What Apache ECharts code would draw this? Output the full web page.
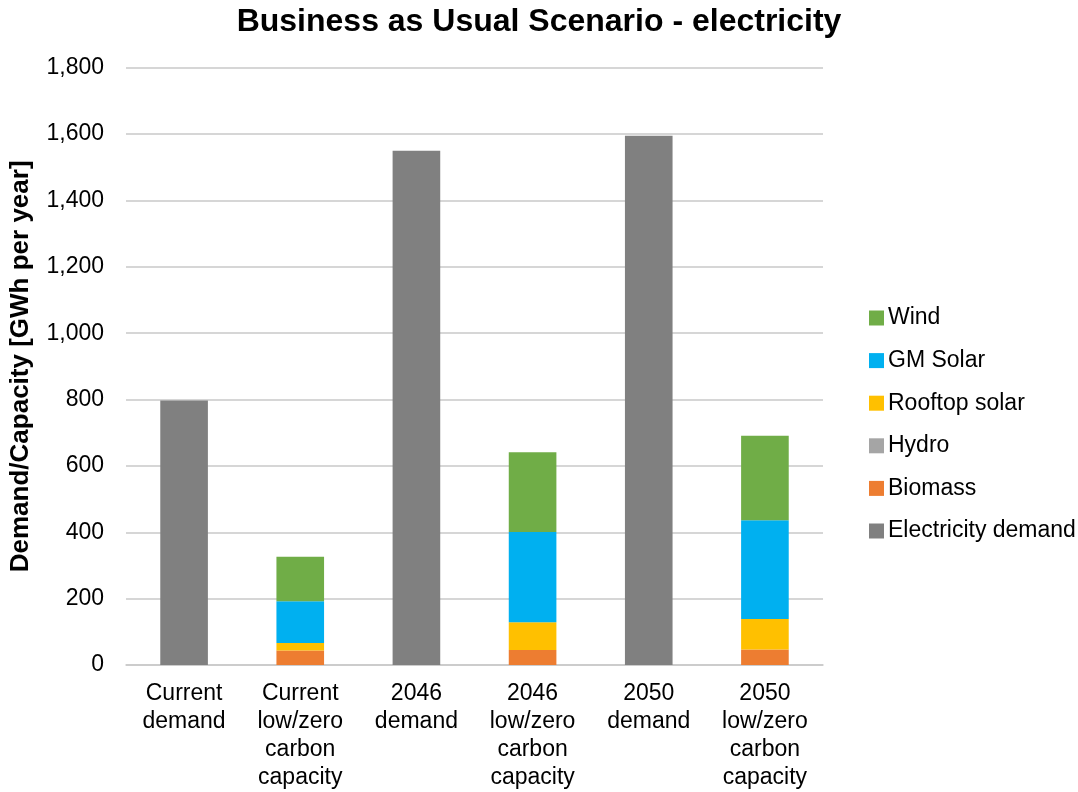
<!DOCTYPE html>
<html>
<head>
<meta charset="utf-8">
<title>Business as Usual Scenario - electricity</title>
<script src="https://cdn.jsdelivr.net/npm/echarts@6/dist/echarts.min.js"></script>
<style>
  html, body { margin: 0; padding: 0; background: #ffffff; }
  #chart { width: 1078px; height: 792px; }
</style>
</head>
<body>
<div id="chart"></div>
<script>
// Categories along the x axis
var categories = [
  'Current\ndemand',
  'Current\nlow/zero\ncarbon\ncapacity',
  '2046\ndemand',
  '2046\nlow/zero\ncarbon\ncapacity',
  '2050\ndemand',
  '2050\nlow/zero\ncarbon\ncapacity'
];

// GWh per year; '-' leaves a category empty for that series
var electricityDemand = [797, '-', 1550, '-', 1595, '-'];
var biomass           = ['-', 44, '-', 45, '-', 47];
var hydro             = ['-', 0, '-', 0, '-', 0];
var rooftopSolar      = ['-', 22, '-', 84, '-', 92];
var gmSolar           = ['-', 126, '-', 272, '-', 297];
var wind              = ['-', 134, '-', 240, '-', 255];

// Legend order (top to bottom)
var legendOrder = ['Wind', 'GM Solar', 'Rooftop solar', 'Hydro', 'Biomass', 'Electricity demand'];

var FONT = "'Liberation Sans', Arial, sans-serif";

function barSeries(name, data, color) {
  return {
    name: name,
    type: 'bar',
    stack: 'total',
    barWidth: '41%',
    data: data,
    itemStyle: { color: color },
    emphasis: { disabled: true }
  };
}

var chart = echarts.init(document.getElementById('chart'), null, { renderer: 'canvas' });

chart.setOption({
  animation: false,
  backgroundColor: '#ffffff',
  textStyle: { fontFamily: FONT },
  title: {
    text: 'Business as Usual Scenario - electricity',
    left: 'center',
    top: 1,
    textStyle: { fontFamily: FONT, fontSize: 32, fontWeight: 'bold', color: '#000000' }
  },
  legend: {
    orient: 'vertical',
    left: 864,
    top: 301,
    itemWidth: 15,
    itemHeight: 15,
    itemGap: 18.6,
    icon: 'rect',
    data: legendOrder,
    textStyle: { fontFamily: FONT, fontSize: 23, color: '#000000', lineHeight: 24, padding: [0, 0, 0, -1] }
  },
  grid: {
    left: 124,
    right: 255,
    top: 67.7,
    bottom: 126.5
  },
  xAxis: {
    type: 'category',
    data: categories,
    axisLine: { show: true, lineStyle: { color: '#C9C9C9', width: 1.5 } },
    axisTick: { show: false },
    axisLabel: {
      interval: 0,
      margin: 15,
      fontFamily: FONT,
      fontSize: 23,
      lineHeight: 28,
      color: '#000000',
      verticalAlign: 'top'
    }
  },
  yAxis: {
    type: 'value',
    min: 0,
    max: 1800,
    interval: 200,
    name: 'Demand/Capacity [GWh per year]',
    nameLocation: 'middle',
    nameGap: 92,
    nameTextStyle: { fontFamily: FONT, fontSize: 26, fontWeight: 'bold', color: '#000000' },
    axisLine: { show: false },
    axisTick: { show: false },
    axisLabel: {
      margin: 22,
      fontFamily: FONT,
      fontSize: 23,
      color: '#000000',
      formatter: function (v) { return v.toLocaleString('en-US'); }
    },
    splitLine: { lineStyle: { color: '#C9C9C9', width: 1.5 } }
  },
  series: [
    barSeries('Electricity demand', electricityDemand, '#808080'),
    barSeries('Biomass', biomass, '#ED7D31'),
    barSeries('Hydro', hydro, '#A5A5A5'),
    barSeries('Rooftop solar', rooftopSolar, '#FFC000'),
    barSeries('GM Solar', gmSolar, '#00B0F0'),
    barSeries('Wind', wind, '#70AD47')
  ]
});
</script>
</body>
</html>
